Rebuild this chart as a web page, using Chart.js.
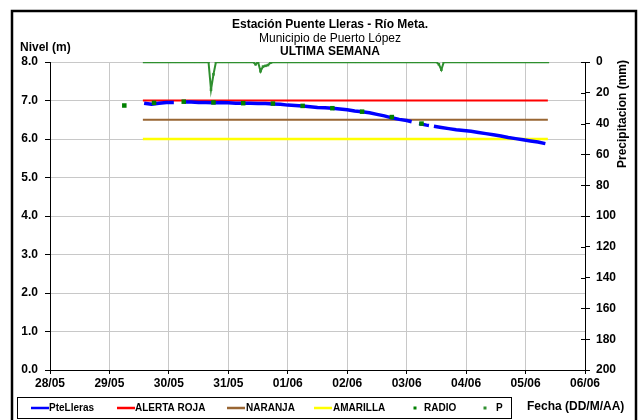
<!DOCTYPE html>
<html lang="es">
<head>
    <meta charset="UTF-8">
    <title>Estación Puente Lleras - Río Meta</title>
    <script src="https://cdn.jsdelivr.net/npm/chart.js"></script>
    <style>
        body { margin: 0; padding: 0; background: #fff; }
        #wrap { width: 641px; height: 420px; position: relative; }
    </style>
</head>
<body>
<div id="wrap"><canvas id="nivelChart" width="641" height="420"></canvas></div>
<script>
// eje x en horas desde 28/05 00:00, una etiqueta por dia
const dayLabels = ['28/05', '29/05', '30/05', '31/05', '01/06', '02/06', '03/06', '04/06', '05/06', '06/06'];

// nivel PteLleras (m) - null = hueco en el registro
const nivelHoras = [38, 41, 44, 47, 50, 51, 54, 57, 60, 63, 66, 69, 72, 75, 78, 81, 84, 87, 90, 93, 96, 99, 102, 105, 108, 111, 114, 117, 120, 123, 126, 129, 132, 135, 138, 141, 144, 146, 147, 149, 152, 153, 154, 155, 158, 161, 164, 167, 170, 173, 176, 179, 182, 185, 188, 191, 194, 197, 200];
const nivelValores = [6.93, 6.90, 6.93, 6.95, 6.95, null, 6.96, 6.96, 6.95, 6.95, 6.94, 6.95, 6.94, 6.93, 6.93, 6.93, 6.92, 6.92, 6.91, 6.90, 6.88, 6.87, 6.86, 6.84, 6.82, 6.81, 6.80, 6.78, 6.76, 6.73, 6.71, 6.68, 6.64, 6.60, 6.55, 6.51, 6.48, 6.45, null, 6.40, 6.36, 6.35, null, 6.33, 6.30, 6.27, 6.24, 6.22, 6.20, 6.17, 6.14, 6.11, 6.08, 6.04, 6.01, 5.98, 5.95, 5.92, 5.88];

// lecturas por radio (m)
const radioHoras = [30, 42, 54, 66, 78, 90, 102, 114, 126, 138, 150];
const radioValores = [6.87, 6.94, 6.97, 6.95, 6.93, 6.92, 6.86, 6.80, 6.71, 6.57, 6.40];

// umbrales de alerta (m)
const umbralInicio = 37.5;
const umbralFin = 201;
const alertaRoja = 7.0;
const alertaNaranja = 6.5;
const alertaAmarilla = 6.0;

// precipitacion horaria (mm), desde la hora 38
const precipInicio = 38;
const precipValores = [
    0, 0, 0, 0, 0, 0, 0, 0, 0, 0,                                                      // 29/05 14h-23h
    0, 0, 0, 0, 0, 0, 0, 0, 0, 0, 0, 0, 0, 0, 0, 0, 0, 18, 8, 0, 0, 0, 0, 0,         // 30/05
    0, 0, 0, 0, 0, 0, 0, 0, 0, 0, 0, 1.5, 0, 6, 3, 2.5, 2, 0.5, 0, 0, 0, 0, 0, 0,    // 31/05
    0, 0, 0, 0, 0, 0, 0, 0, 0, 0, 0, 0, 0, 0, 0, 0, 0, 0, 0, 0, 0, 0, 0, 0,          // 01/06
    0, 0, 0, 0, 0, 0, 0, 0, 0, 0, 0, 0, 0, 0, 0, 0, 0, 0, 0, 0, 0, 0, 0, 0,          // 02/06
    0, 0, 0, 0, 0, 0, 0, 0, 0, 0, 0, 0, 0, 1.5, 5, 0, 0, 0, 0, 0, 0, 0, 0, 0,        // 03/06
    0, 0, 0, 0, 0, 0, 0, 0, 0, 0, 0, 0, 0, 0, 0, 0, 0, 0, 0, 0, 0, 0, 0, 0,          // 04/06
    0, 0, 0, 0, 0, 0, 0, 0, 0, 0                                                       // 05/06 0h-9h
];

const verdeP = '#2f8f2f';
const verdeRadio = '#008000';

function puntos(xs, ys) {
    return xs.map((x, i) => ({ x: x, y: ys[i] }));
}

Chart.defaults.font.family = '"Liberation Sans", Arial, sans-serif';
Chart.defaults.color = '#000';

// titulos, leyenda y marco dibujados a mano
const decoracion = {
    id: 'decoracion',
    afterDraw(chart) {
        const c = chart.ctx;
        const area = chart.chartArea;
        c.save();
        c.fillStyle = '#000';
        c.textAlign = 'center';
        c.textBaseline = 'middle';
        c.font = 'bold 12px "Liberation Sans", Arial';
        c.fillText('Estación Puente Lleras - Río Meta.', 330, 25);
        c.font = '12px "Liberation Sans", Arial';
        c.fillText('Municipio de Puerto López', 330, 39);
        c.font = 'bold 12px "Liberation Sans", Arial';
        c.fillText('ULTIMA SEMANA', 330, 52);
        c.textAlign = 'left';
        c.fillText('Nivel (m)', 20, 48);
        c.fillText('Fecha (DD/M/AA)', 527, 407);

        c.save();
        c.translate(623, 114);
        c.rotate(-Math.PI / 2);
        c.textAlign = 'center';
        c.fillText('Precipitacion (mm)', 0, 0);
        c.restore();

        // marcas del eje derecho hacia dentro
        const y2 = chart.scales.y2;
        c.strokeStyle = '#000';
        c.lineWidth = 1;
        y2.ticks.forEach(t => {
            const yy = Math.round(y2.getPixelForValue(t.value)) + 0.5;
            c.beginPath();
            c.moveTo(area.right - 4, yy);
            c.lineTo(area.right, yy);
            c.stroke();
        });

        // leyenda
        c.strokeStyle = '#000';
        c.lineWidth = 1;
        c.strokeRect(17.5, 397.5, 494, 21);
        const ly = 408;
        const items = [
            { t: 'line', col: '#0000ff', x0: 31, x1: 49, tx: 49, label: 'PteLleras' },
            { t: 'line', col: '#ff0000', x0: 117, x1: 135, tx: 135, label: 'ALERTA ROJA' },
            { t: 'line', col: '#996633', x0: 227, x1: 245, tx: 246, label: 'NARANJA' },
            { t: 'line', col: '#ffff00', x0: 314, x1: 332, tx: 333, label: 'AMARILLA' },
            { t: 'dot', col: verdeRadio, x0: 415, tx: 424, label: 'RADIO' },
            { t: 'dot', col: verdeP, x0: 485, tx: 496, label: 'P' }
        ];
        c.font = 'bold 10px "Liberation Sans", Arial';
        c.textBaseline = 'middle';
        items.forEach(it => {
            if (it.t === 'line') {
                c.strokeStyle = it.col;
                c.lineWidth = 2.5;
                c.beginPath();
                c.moveTo(it.x0, ly);
                c.lineTo(it.x1, ly);
                c.stroke();
            } else {
                c.fillStyle = it.col;
                c.fillRect(it.x0 - 1.5, ly - 1.5, 3, 3);
            }
            c.fillStyle = '#000';
            c.fillText(it.label, it.tx, ly + 0.5);
        });

        // marco exterior
        c.strokeStyle = '#000';
        c.lineWidth = 2.5;
        c.strokeRect(12, 11, 624, 420);
        c.restore();
    }
};

const ctx = document.getElementById('nivelChart').getContext('2d');
const nivelChart = new Chart(ctx, {
    type: 'line',
    data: {
        datasets: [
            {
                label: 'PteLleras',
                data: puntos(nivelHoras, nivelValores),
                borderColor: '#0000ff',
                borderWidth: 3.5,
                pointRadius: 0,
                spanGaps: false,
                yAxisID: 'y',
                order: 2
            },
            {
                label: 'ALERTA ROJA',
                data: [{ x: umbralInicio, y: alertaRoja }, { x: umbralFin, y: alertaRoja }],
                borderColor: '#ff0000',
                borderWidth: 2,
                pointRadius: 0,
                yAxisID: 'y',
                order: 3
            },
            {
                label: 'NARANJA',
                data: [{ x: umbralInicio, y: alertaNaranja }, { x: umbralFin, y: alertaNaranja }],
                borderColor: '#996633',
                borderWidth: 2,
                pointRadius: 0,
                yAxisID: 'y',
                order: 3
            },
            {
                label: 'AMARILLA',
                data: [{ x: umbralInicio, y: alertaAmarilla }, { x: umbralFin, y: alertaAmarilla }],
                borderColor: '#ffff00',
                borderWidth: 2.5,
                pointRadius: 0,
                yAxisID: 'y',
                order: 3
            },
            {
                label: 'RADIO',
                data: puntos(radioHoras, radioValores),
                showLine: false,
                pointStyle: 'rect',
                pointRadius: 3.2,
                pointBackgroundColor: verdeRadio,
                pointBorderColor: verdeRadio,
                borderWidth: 0,
                yAxisID: 'y',
                order: 0
            },
            {
                label: 'P',
                data: precipValores.map((v, i) => ({ x: precipInicio + i, y: v })),
                borderColor: verdeP,
                borderWidth: 2,
                pointStyle: 'rect',
                pointRadius: 1.8,
                pointBackgroundColor: verdeP,
                pointBorderColor: verdeP,
                pointBorderWidth: 0,
                yAxisID: 'y2',
                order: 1
            }
        ]
    },
    options: {
        responsive: false,
        animation: false,
        layout: { padding: { top: 62, left: 0, right: 0, bottom: 0 } },
        plugins: {
            legend: { display: false },
            title: { display: false },
            tooltip: { enabled: false }
        },
        scales: {
            x: {
                type: 'linear',
                min: 0,
                max: 216,
                afterFit: (s) => { s.height = 50; },
                ticks: {
                    stepSize: 24,
                    autoSkip: false,
                    maxRotation: 0,
                    padding: 2,
                    font: { size: 12, weight: 'bold' },
                    callback: (v) => dayLabels[Math.round(v / 24)]
                },
                grid: { color: '#c8c8c8', tickColor: '#000', tickLength: 4 },
                border: { color: '#000', width: 1 }
            },
            y: {
                position: 'left',
                min: 0,
                max: 8,
                afterFit: (s) => { s.width = 50; },
                ticks: {
                    stepSize: 1,
                    padding: 7,
                    font: { size: 12, weight: 'bold' },
                    callback: (v) => v.toFixed(1)
                },
                grid: { color: '#c8c8c8', tickColor: '#000', tickLength: 5 },
                border: { color: '#000', width: 1 }
            },
            y2: {
                position: 'right',
                reverse: true,
                min: 0,
                max: 200,
                afterFit: (s) => { s.width = 56; },
                ticks: {
                    stepSize: 20,
                    padding: 6,
                    font: { size: 12, weight: 'bold' }
                },
                grid: { drawOnChartArea: false, tickColor: '#000', tickLength: 5 },
                border: { color: '#000', width: 1 }
            }
        }
    },
    plugins: [decoracion]
});
</script>
</body>
</html>
